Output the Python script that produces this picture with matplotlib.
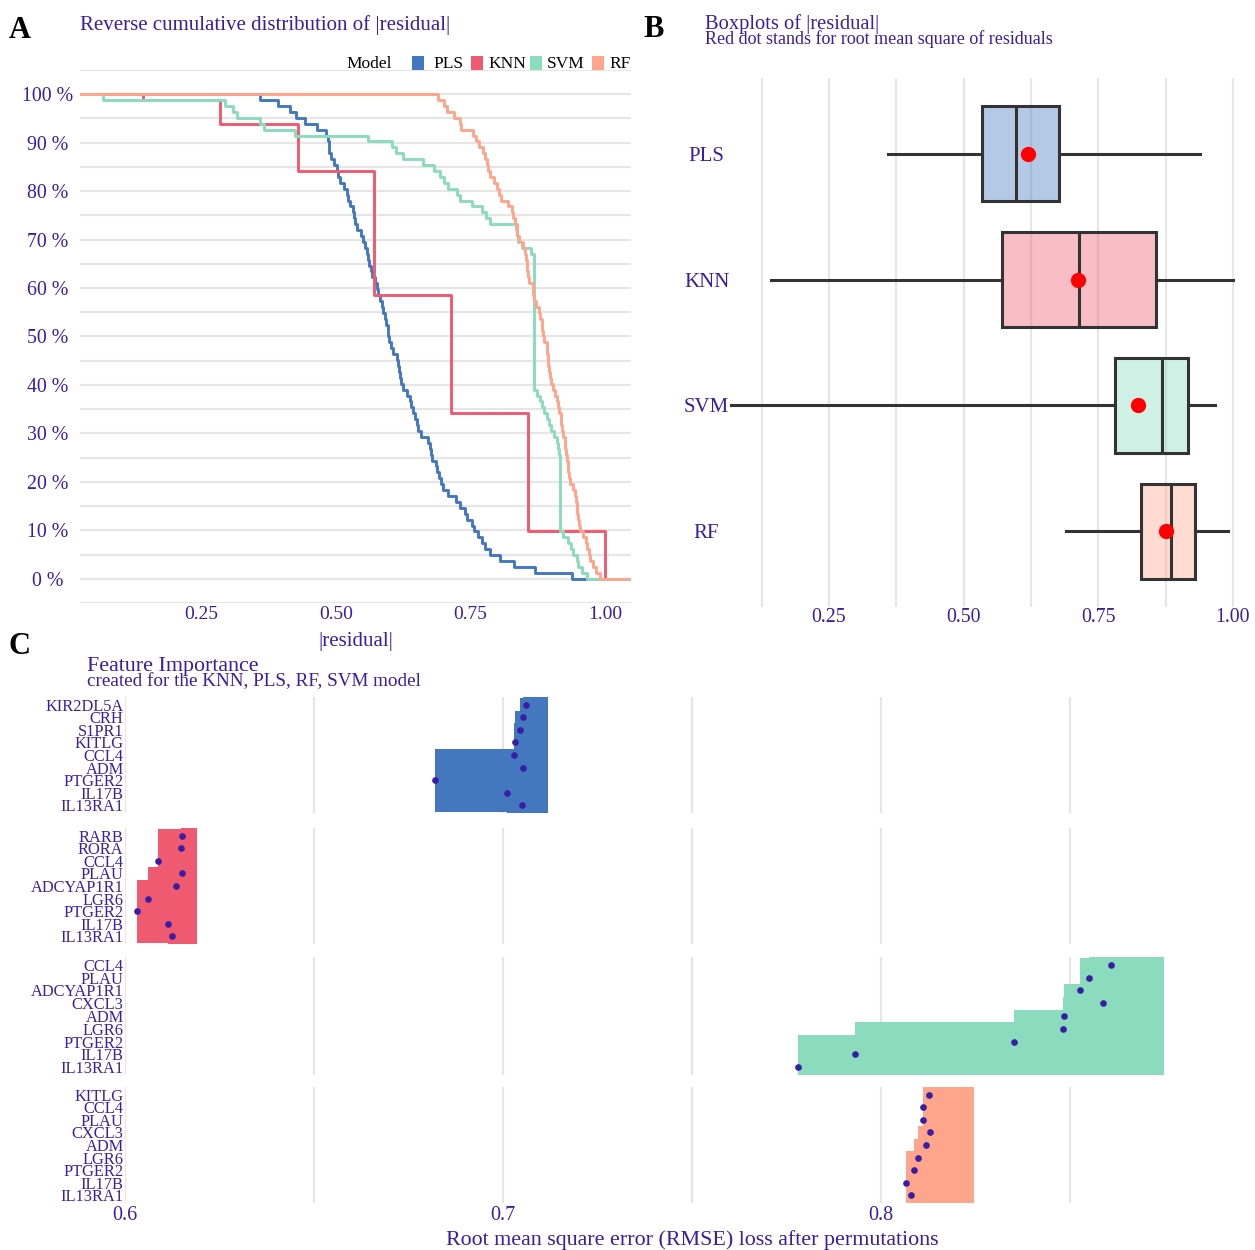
import numpy as np
import matplotlib
matplotlib.use("Agg")
import matplotlib.pyplot as plt
from matplotlib.patches import Rectangle
from matplotlib.colors import to_rgba

plt.rcParams['font.family'] = ['Liberation Serif', 'DejaVu Serif']

# ---------------- data ----------------
models = ['PLS', 'KNN', 'SVM', 'RF']
model_colors = ['#4378bf', '#f05a71', '#8bdcbe', '#ffa58c']

# absolute residuals
res_pls = [0.359, 0.392, 0.415, 0.426, 0.443, 0.465, 0.482, 0.486, 0.488, 0.488,
           0.492, 0.497, 0.502, 0.505, 0.508, 0.516, 0.520, 0.523, 0.526, 0.531,
           0.534, 0.536, 0.540, 0.546, 0.550, 0.554, 0.557, 0.560, 0.562, 0.565,
           0.568, 0.573, 0.576, 0.579, 0.582, 0.585, 0.588, 0.591, 0.594, 0.596,
           0.597, 0.599, 0.602, 0.607, 0.613, 0.616, 0.618, 0.619, 0.621, 0.624,
           0.632, 0.638, 0.640, 0.643, 0.647, 0.651, 0.653, 0.659, 0.671, 0.674,
           0.676, 0.678, 0.685, 0.688, 0.692, 0.696, 0.699, 0.709, 0.723, 0.730,
           0.740, 0.744, 0.752, 0.756, 0.764, 0.771, 0.777, 0.786, 0.805, 0.830,
           0.870, 0.938]
res_knn = [0.143,
           0.286, 0.286, 0.286, 0.286,
           0.429, 0.429, 0.429, 0.429, 0.429, 0.429, 0.429, 0.429,
           0.571, 0.571, 0.571, 0.571, 0.571, 0.571, 0.571, 0.571, 0.571, 0.571,
           0.571, 0.571, 0.571, 0.571, 0.571, 0.571, 0.571, 0.571, 0.571, 0.571, 0.571,
           0.714, 0.714, 0.714, 0.714, 0.714, 0.714, 0.714, 0.714, 0.714, 0.714,
           0.714, 0.714, 0.714, 0.714, 0.714, 0.714, 0.714, 0.714, 0.714, 0.714,
           0.857, 0.857, 0.857, 0.857, 0.857, 0.857, 0.857, 0.857, 0.857, 0.857,
           0.857, 0.857, 0.857, 0.857, 0.857, 0.857, 0.857, 0.857, 0.857, 0.857,
           1.000, 1.000, 1.000, 1.000, 1.000, 1.000, 1.000, 1.000]
res_svm = [0.069, 0.295, 0.310, 0.317, 0.359, 0.366, 0.424, 0.560, 0.604, 0.612,
           0.625, 0.661, 0.683, 0.693, 0.700, 0.708, 0.724, 0.730, 0.752, 0.771,
           0.778, 0.787, 0.835, 0.836, 0.838, 0.845, 0.862, 0.867,
           0.868, 0.868, 0.868, 0.868, 0.868, 0.868, 0.868, 0.868, 0.868, 0.868, 0.868,
           0.868, 0.868, 0.868, 0.868, 0.868, 0.868, 0.868, 0.868, 0.868, 0.868, 0.868,
           0.873, 0.879, 0.883, 0.886, 0.891, 0.895, 0.900, 0.905, 0.910, 0.913, 0.915,
           0.916, 0.916, 0.916, 0.916, 0.916, 0.916, 0.916, 0.916, 0.916, 0.916, 0.916,
           0.916, 0.916,
           0.922, 0.930, 0.936, 0.941, 0.947, 0.950, 0.956, 0.966]
res_rf = [0.690, 0.700, 0.706, 0.720, 0.730, 0.733, 0.755, 0.761, 0.765, 0.774,
          0.777, 0.781, 0.782, 0.786, 0.793, 0.800, 0.803, 0.806, 0.820, 0.826,
          0.829, 0.832, 0.836, 0.837, 0.840, 0.848, 0.851, 0.852, 0.854, 0.855,
          0.857, 0.859, 0.865, 0.866, 0.868, 0.871, 0.877, 0.879, 0.882, 0.883,
          0.884, 0.886, 0.891, 0.892, 0.893, 0.894, 0.896, 0.898, 0.900, 0.903,
          0.907, 0.910, 0.913, 0.915, 0.917, 0.918, 0.920, 0.922, 0.925, 0.926,
          0.928, 0.929, 0.930, 0.931, 0.933, 0.935, 0.940, 0.944, 0.946, 0.947,
          0.948, 0.950, 0.952, 0.954, 0.959, 0.964, 0.966, 0.969, 0.972, 0.977,
          0.982, 0.991]
residuals = [res_pls, res_knn, res_svm, res_rf]

# feature importance (RMSE loss after permutations)
feat_pls = ['KIR2DL5A', 'CRH', 'S1PR1', 'KITLG', 'CCL4', 'ADM', 'PTGER2', 'IL17B', 'IL13RA1']
loss_pls = [0.7061, 0.7052, 0.7044, 0.7032, 0.7028, 0.7053, 0.6820, 0.7011, 0.7051]
full_pls = 0.7118
feat_knn = ['RARB', 'RORA', 'CCL4', 'PLAU', 'ADCYAP1R1', 'LGR6', 'PTGER2', 'IL17B', 'IL13RA1']
loss_knn = [0.6152, 0.6147, 0.6087, 0.6152, 0.6136, 0.6060, 0.6033, 0.6113, 0.6123]
full_knn = 0.6190
feat_svm = ['CCL4', 'PLAU', 'ADCYAP1R1', 'CXCL3', 'ADM', 'LGR6', 'PTGER2', 'IL17B', 'IL13RA1']
loss_svm = [0.8608, 0.8550, 0.8526, 0.8587, 0.8484, 0.8482, 0.8352, 0.7931, 0.7779]
full_svm = 0.8749
feat_rf = ['KITLG', 'CCL4', 'PLAU', 'CXCL3', 'ADM', 'LGR6', 'PTGER2', 'IL17B', 'IL13RA1']
loss_rf = [0.8127, 0.8110, 0.8110, 0.8129, 0.8119, 0.8098, 0.8086, 0.8067, 0.8080]
full_rf = 0.8246

a_yticks = [0.0, 0.1, 0.2, 0.3, 0.4, 0.5, 0.6, 0.7, 0.8, 0.9, 1.0]
a_ylabels = ['0 %', '10 %', '20 %', '30 %', '40 %', '50 %', '60 %', '70 %', '80 %', '90 %', '100 %']
res_ticks = [0.25, 0.50, 0.75, 1.00]
res_ticklabels = ['0.25', '0.50', '0.75', '1.00']
c_ticks = [0.6, 0.7, 0.8]
c_ticklabels = ['0.6', '0.7', '0.8']

# ---------------- style ----------------
W, H = 1255, 1250
TXT = '#371ea3'
GRID = '#e6e6e6'
fig = plt.figure(figsize=(W / 100, H / 100), dpi=100)


def box(l, t, r, b):
    return [l / W, 1 - b / H, (r - l) / W, (b - t) / H]


def clean(ax):
    for s in ax.spines.values():
        s.set_visible(False)
    ax.tick_params(which='both', length=0, labelcolor=TXT)


def ftext(x, y, s, **kw):
    fig.text(x / W, 1 - y / H, s, **kw)


# ---------------- panel A ----------------
axA = fig.add_axes(box(80, 70, 631, 603))
clean(axA)
xlo, xhi = 0.0254, 1.0477
for m, col, r in zip(models, model_colors, residuals):
    v = np.sort(np.asarray(r))
    n = len(v)
    xs = np.concatenate([[xlo - 1], v, [xhi + 1]])
    ys = np.concatenate([[1.0], 1 - np.arange(1, n + 1) / n, [0.0]])
    axA.step(xs, ys, where='post', color=col, lw=2.1, zorder=3)
axA.set_xlim(xlo, xhi)
axA.set_ylim(-0.05, 1.05)
axA.set_yticks(a_yticks)
axA.set_yticklabels(a_ylabels, fontsize=14.3, ha='center')
axA.set_yticks(np.arange(-0.05, 1.06, 0.1), minor=True)
axA.yaxis.grid(True, which='both', color=GRID, lw=1.6)
axA.set_axisbelow(True)
axA.tick_params(axis='y', pad=23)
axA.set_xticks(res_ticks)
axA.set_xticklabels(res_ticklabels, fontsize=14)
axA.tick_params(axis='x', pad=2)
axA.set_xlabel('|residual|', fontsize=15, color=TXT, labelpad=7)

ftext(9, 38, 'A', fontsize=22, fontweight='bold', color='black', va='baseline')
ftext(80, 30, 'Reverse cumulative distribution of |residual|', fontsize=15, color=TXT, va='baseline')

# legend
ftext(346, 68, 'Model', fontsize=12.5, color='black', va='baseline')
leg_sq = [412, 471, 530, 592]
leg_tx = [433, 488, 547, 609]
for m, col, sx, tx in zip(models, model_colors, leg_sq, leg_tx):
    fig.add_artist(Rectangle((sx / W, 1 - 70 / H), 12 / W, 14 / H, transform=fig.transFigure,
                             facecolor=col, edgecolor='none'))
    ftext(tx, 68, m, fontsize=12.5, color='black', va='baseline')

# ---------------- panel B ----------------
axB = fig.add_axes(box(708, 78, 1255, 607))
clean(axB)
bp = axB.boxplot(residuals, positions=[1, 2, 3, 4], whis=(0, 100), widths=0.75,
                 orientation='horizontal', patch_artist=True, showfliers=False, showcaps=False,
                 medianprops=dict(color='#333333', lw=2.2),
                 whiskerprops=dict(color='#333333', lw=2.2),
                 boxprops=dict(edgecolor='#333333', lw=2.2))
for patch, col in zip(bp['boxes'], model_colors):
    patch.set_facecolor(to_rgba(col, 0.4))
rms = [np.sqrt(np.mean(np.square(r))) for r in residuals]
axB.plot(rms, [1, 2, 3, 4], 'o', color='red', ms=11, zorder=5, mec='none')
axB.set_xlim(0.0254, 1.0408)
axB.set_ylim(4.6, 0.4)
axB.set_yticks([1, 2, 3, 4])
axB.set_yticklabels(models, fontsize=15, ha='center')
axB.tick_params(axis='y', pad=1)
axB.set_xticks(res_ticks)
axB.set_xticklabels(res_ticklabels, fontsize=14.3)
axB.set_xticks([0.125, 0.375, 0.625, 0.875], minor=True)
axB.tick_params(axis='x', pad=1)
axB.xaxis.grid(True, which='both', color=GRID, lw=1.6)
axB.set_axisbelow(True)

ftext(643, 37, 'B', fontsize=22, fontweight='bold', color='black', va='baseline')
ftext(705, 29, 'Boxplots of |residual|', fontsize=14.8, color=TXT, va='baseline')
ftext(705, 44.5, 'Red dot stands for root mean square of residuals', fontsize=13.0, color=TXT, va='baseline')

# ---------------- panel C ----------------
panels = [
    ('PLS', feat_pls, loss_pls, full_pls, model_colors[0], 697, 813),
    ('KNN', feat_knn, loss_knn, full_knn, model_colors[1], 828, 944),
    ('SVM', feat_svm, loss_svm, full_svm, model_colors[2], 957, 1075),
    ('RF', feat_rf, loss_rf, full_rf, model_colors[3], 1087, 1203),
]
for i, (name, feats, loss, full, col, top, bot) in enumerate(panels):
    ax = fig.add_axes(box(125, top, 1255, bot))
    clean(ax)
    pos = np.arange(1, len(feats) + 1)
    loss_a = np.asarray(loss)
    ax.barh(pos, full - loss_a, left=loss_a, height=5.0, color=col, lw=0, zorder=2)
    ax.plot(loss_a, pos, 'o', color=TXT, ms=4.8, mec='none', zorder=3)
    ax.set_xlim(0.6, 0.8989)
    ax.set_ylim(9.6, 0.4)
    ax.set_yticks(pos)
    ax.set_yticklabels(feats, fontsize=11.8)
    ax.tick_params(axis='y', pad=1)
    ax.set_xticks(c_ticks)
    ax.set_xticks([0.65, 0.75, 0.85], minor=True)
    ax.xaxis.grid(True, which='both', color=GRID, lw=1.6)
    ax.set_axisbelow(True)
    if i == len(panels) - 1:
        ax.set_xticklabels(c_ticklabels, fontsize=14.5)
        ax.tick_params(axis='x', pad=2)
    else:
        ax.set_xticklabels([])

ftext(9, 654, 'C', fontsize=22, fontweight='bold', color='black', va='baseline')
ftext(87, 671.5, 'Feature Importance', fontsize=15.8, color=TXT, va='baseline')
ftext(87, 686.5, 'created for the KNN, PLS, RF, SVM model', fontsize=13.8, color=TXT, va='baseline')
ftext(692, 1245, 'Root mean square error (RMSE) loss after permutations', fontsize=15.8,
      color=TXT, va='baseline', ha='center')

fig.savefig('out.png', dpi=100)
